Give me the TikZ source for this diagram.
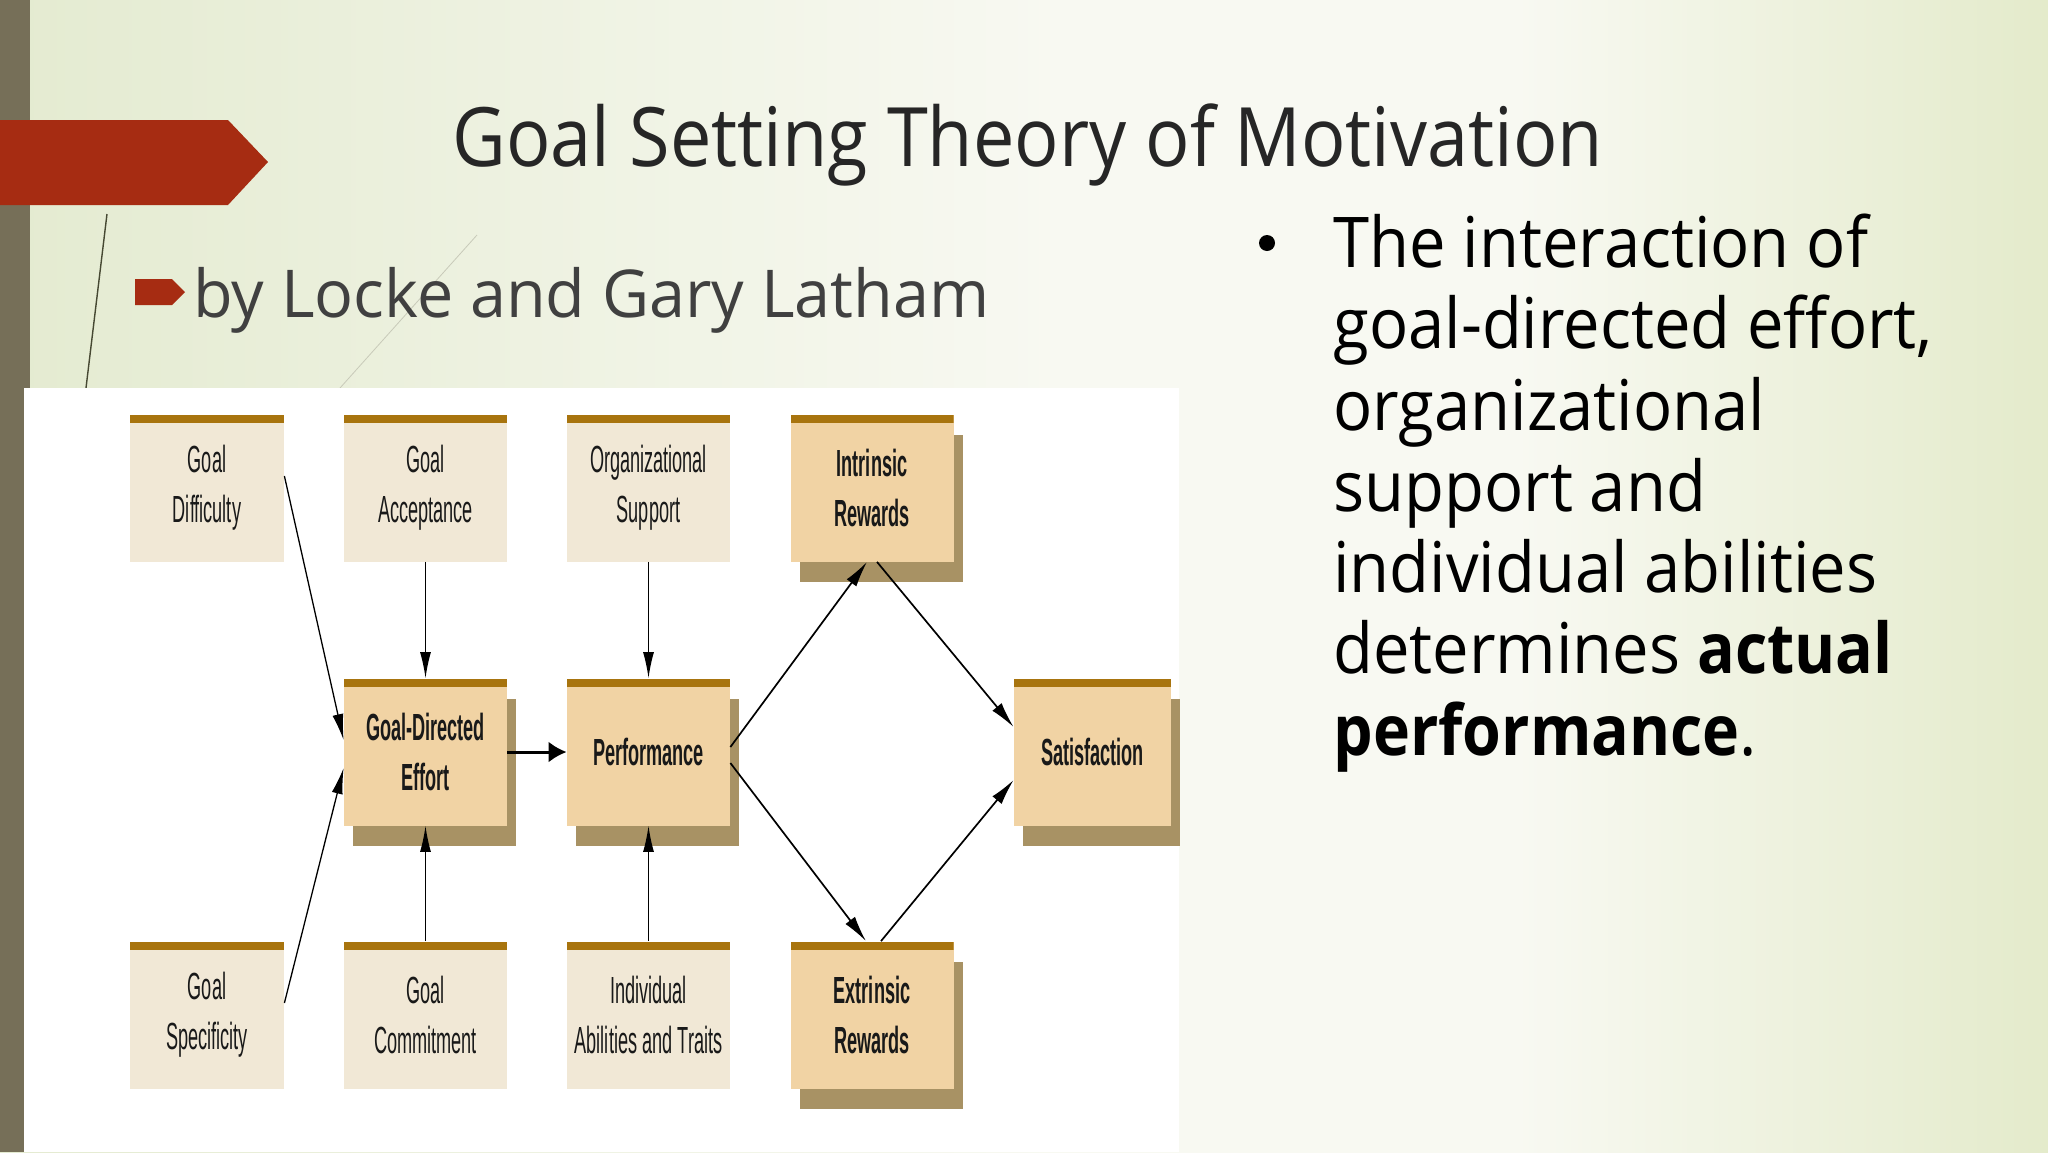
\documentclass[tikz,border=0pt]{standalone}
\usepackage{fontspec}
\usetikzlibrary{arrows.meta,shadows}
\newfontfamily\slidefont{Open Sans}[FakeStretch=0.9]
\newfontfamily\subfont{Open Sans}[FakeStretch=0.98]
\newfontfamily\rightfont{Open Sans}[FakeStretch=0.93, BoldFeatures={FakeStretch=0.895}]
\newfontfamily\boxfont{Liberation Sans}[FakeStretch=0.48]
\definecolor{bgL}{RGB}{224,232,202}
\definecolor{bgW}{RGB}{248,249,242}
\definecolor{bgR}{RGB}{220,229,188}
\definecolor{stripc}{RGB}{118,111,88}
\definecolor{redc}{RGB}{166,44,18}
\definecolor{lightc}{RGB}{241,232,214}
\definecolor{darkc}{RGB}{241,211,164}
\definecolor{shadowc}{RGB}{168,146,100}
\definecolor{barc}{RGB}{168,116,14}
\definecolor{titlec}{RGB}{38,38,38}
\definecolor{subc}{RGB}{64,64,64}
\definecolor{darkline}{RGB}{70,72,50}
\definecolor{lightline}{RGB}{200,202,185}
\pgfdeclarehorizontalshading{bgshade}{100bp}{color(0bp)=(bgL); color(20bp)=(bgL); color(51bp)=(bgW); color(62bp)=(bgW); color(80bp)=(bgR); color(100bp)=(bgR)}
\tikzset{
  boxbase/.style={rectangle, inner sep=0pt, minimum height=73.5pt, align=center,
    font=\boxfont\fontsize{18.9pt}{25pt}\selectfont, text=black!90,
    path picture={\fill[barc] (path picture bounding box.north west) rectangle ([yshift=-4pt]path picture bounding box.north east);}},
  inbox/.style={boxbase, fill=lightc, minimum width=81.5pt},
  keybox/.style={boxbase, fill=darkc, minimum width=81.5pt,
    font=\boxfont\bfseries\fontsize{18.9pt}{25pt}\selectfont,
    drop shadow={shadow xshift=4.5pt, shadow yshift=-10pt, fill=shadowc, opacity=1}},
  thinarrow/.style={-{Latex[length=13pt,width=5.5pt]}, line width=0.65pt},
  diaarrow/.style={-{Latex[length=13pt,width=6pt]}, line width=0.85pt},
  slidetext/.style={anchor=base west, inner sep=0pt},
}
\begin{document}
\begin{tikzpicture}[x=0.5pt,y=-0.5pt]
\useasboundingbox (0,0) rectangle (2048,1152);
% background
\shade[shading=bgshade] (0,0) rectangle (2048,1152);
% left strip
\fill[stripc] (0,0) rectangle (30,1152);
% red banner
\fill[redc] (0,120) -- (228,120) -- (268,162) -- (228,205) -- (0,205) -- cycle;
% decorative thin lines
\draw[line width=0.7pt, darkline] (107,214) -- (86,388);
\draw[line width=0.4pt, lightline] (477,235) -- (340,388);
% title
\node[slidetext, font=\slidefont\fontsize{41pt}{49pt}\selectfont, text=titlec] (title) at (452,166) {Goal Setting Theory of Motivation};
% subtitle bullet and text
\fill[redc] (135,279) -- (172,279) -- (185,292) -- (172,305) -- (135,305) -- cycle;
\node[slidetext, font=\subfont\fontsize{33pt}{40pt}\selectfont, text=subc] (sub) at (193,317) {by Locke and Gary Latham};
% right text
\node[circle, fill=black, inner sep=0pt, minimum size=8pt] (bul) at (1267,243) {};
\begin{scope}[every node/.style={slidetext, font=\rightfont\fontsize{35pt}{42pt}\selectfont, text=black}]
\node (r1) at (1333,267) {The interaction of};
\node (r2) at (1333,348) {goal-directed effort,};
\node (r3) at (1333,430) {organizational};
\node (r4) at (1333,511) {support and};
\node (r5) at (1333,592) {individual abilities};
\node (r6) at (1333,673) {determines \textbf{actual}};
\node (r7) at (1333,755) {\textbf{performance}.};
\end{scope}
% white panel
\fill[white] (24,388) rectangle (1179,1152);
% diagram boxes
\node[inbox, minimum width=77pt] (gd) at (207,488) {Goal\\Difficulty};
\node[inbox] (ga) at (425.5,488) {Goal\\Acceptance};
\node[inbox] (os) at (648.5,488) {Organizational\\Support};
\node[keybox] (ir) at (872,488) {Intrinsic\\Rewards};
\node[keybox] (gde) at (425.5,752) {Goal-Directed\\Effort};
\node[keybox] (perf) at (648.5,752) {Performance};
\node[keybox, minimum width=78.5pt] (sat) at (1092.5,752) {Satisfaction};
\node[inbox, minimum width=77pt] (gs) at (207,1015) {Goal\\Specificity};
\node[inbox] (gc) at (425.5,1015) {Goal\\Commitment};
\node[inbox] (ia) at (648.5,1015) {Individual\\Abilities and Traits};
\node[keybox] (er) at (872,1015) {Extrinsic\\Rewards};
% connectors
\draw[thinarrow] ([yshift=6pt]gd.east) -- ([yshift=6pt]gde.west);
\draw[thinarrow] ([yshift=6pt]gs.east) -- ([yshift=-8pt]gde.west);
\draw[thinarrow] (ga.south) -- (gde.north);
\draw[thinarrow] (os.south) -- (perf.north);
\draw[thinarrow] (gc.north) -- (gde.south);
\draw[thinarrow] (ia.north) -- (perf.south);
\draw[-{Latex[length=9pt,width=10.5pt]}, line width=1.5pt] (gde.east) -- (perf.west);
\draw[diaarrow] ([yshift=2.5pt]perf.east) -- ([xshift=-2.5pt]ir.south);
\draw[diaarrow] ([xshift=2.5pt]ir.south) -- ([yshift=12.5pt]sat.west);
\draw[diaarrow] ([yshift=-5.5pt]perf.east) -- ([xshift=-3pt]er.north);
\draw[diaarrow] ([xshift=4.5pt]er.north) -- ([yshift=-14pt]sat.west);
\end{tikzpicture}
\end{document}
